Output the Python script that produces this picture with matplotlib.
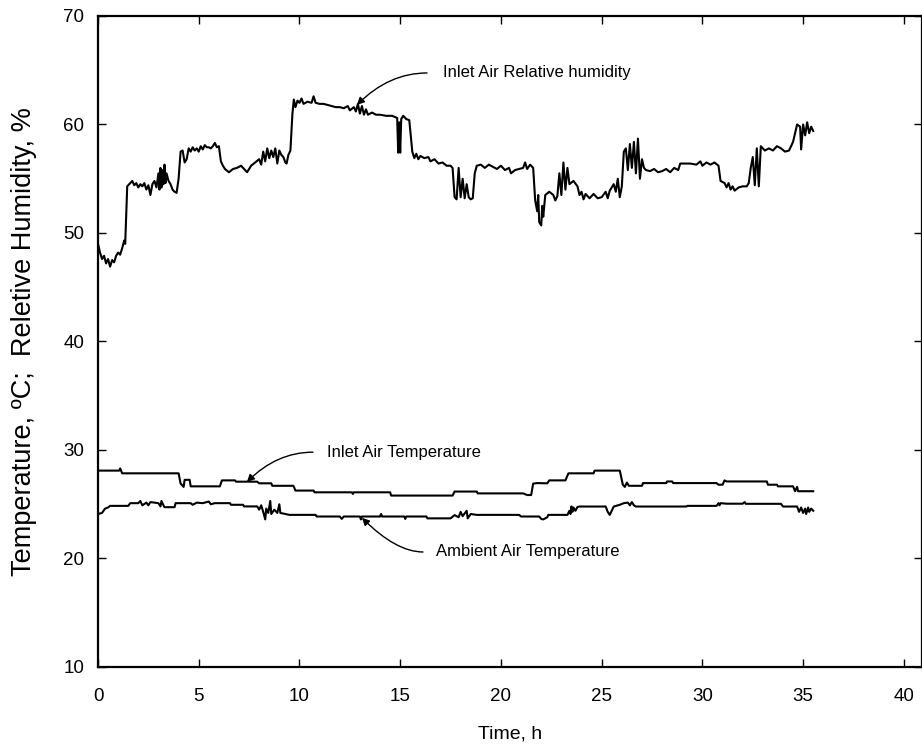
import numpy as np
import matplotlib.pyplot as plt

plt.rcParams['font.family'] = ['Liberation Sans', 'DejaVu Sans']

# inlet air relative humidity, %
rh_t = [0.0, 0.1, 0.2, 0.3, 0.4, 0.5, 0.6, 0.7, 0.8, 0.9, 1.0, 1.1, 1.2, 1.3, 1.35,
        1.45, 1.6, 1.7, 1.8, 1.9, 2.0, 2.1, 2.2, 2.3, 2.4, 2.5, 2.6, 2.7, 2.8, 2.9,
        3.0, 3.05, 3.1, 3.15, 3.2, 3.25, 3.3, 3.35, 3.4, 3.5, 3.6, 3.7, 3.8, 3.9,
        4.0, 4.1, 4.2, 4.3, 4.4, 4.5, 4.6, 4.7, 4.8, 4.9, 5.0, 5.1, 5.2, 5.3, 5.4,
        5.5, 5.6, 5.7, 5.8, 5.9, 6.0, 6.1, 6.2, 6.3, 6.5, 6.7, 6.9, 7.1, 7.3, 7.4,
        7.6, 7.8, 8.0, 8.1, 8.2, 8.3, 8.4, 8.5, 8.6, 8.7, 8.8, 8.9, 9.0, 9.1, 9.2,
        9.3, 9.36, 9.45, 9.55, 9.65, 9.72, 9.8, 9.9, 10.0, 10.1, 10.2, 10.4, 10.6,
        10.7, 10.8, 11.0, 11.2, 11.4, 11.6, 11.8, 12.0, 12.2, 12.4, 12.5, 12.7,
        12.8, 12.9, 13.0, 13.1, 13.2, 13.3, 13.4, 13.6, 13.8, 14.0, 14.3, 14.6,
        14.85, 14.9, 14.95, 15.0, 15.05, 15.15, 15.3, 15.45, 15.6, 15.7, 15.8,
        15.9, 16.0, 16.2, 16.4, 16.5, 16.7, 16.9, 17.1, 17.3, 17.5, 17.6, 17.7,
        17.8, 17.9, 18.0, 18.1, 18.2, 18.3, 18.4, 18.5, 18.6, 18.7, 18.8, 19.0,
        19.2, 19.4, 19.6, 19.8, 20.0, 20.2, 20.4, 20.5, 20.7, 20.9, 21.1, 21.2,
        21.3, 21.45, 21.6, 21.7, 21.8, 21.85, 21.9, 22.0, 22.05, 22.1, 22.2, 22.4,
        22.6, 22.7, 22.8, 22.9, 23.0, 23.1, 23.2, 23.3, 23.4, 23.6, 23.8, 23.9,
        24.0, 24.1, 24.2, 24.4, 24.6, 24.8, 25.0, 25.2, 25.3, 25.4, 25.6, 25.7,
        25.8, 25.9, 26.0, 26.1, 26.2, 26.3, 26.4, 26.5, 26.6, 26.7, 26.8, 26.9,
        27.0, 27.1, 27.2, 27.4, 27.6, 27.8, 28.0, 28.2, 28.4, 28.6, 28.8, 28.9,
        29.1, 29.4, 29.7, 29.9, 30.0, 30.2, 30.4, 30.6, 30.8, 30.9, 31.1, 31.2,
        31.3, 31.4, 31.5, 31.6, 31.8, 32.0, 32.2, 32.3, 32.4, 32.5, 32.6, 32.7,
        32.8, 32.9, 33.1, 33.3, 33.5, 33.7, 33.9, 34.1, 34.3, 34.5, 34.7, 34.85,
        34.9, 35.0, 35.1, 35.2, 35.3, 35.4, 35.5]
rh_v = [49.0, 48.2, 47.6, 47.9, 47.2, 47.6, 46.9, 47.5, 47.3, 47.9, 48.2, 48.0, 48.6, 49.3, 49.0,
        54.3, 54.6, 54.8, 54.4, 54.6, 54.2, 54.5, 54.3, 54.6, 54.0, 54.4, 53.5, 54.5, 54.8, 54.2,
        55.5, 54.0, 56.0, 54.2, 55.8, 54.5, 56.3, 54.6, 55.5, 54.8, 54.5, 54.0, 53.8, 53.7,
        55.0, 57.5, 57.6, 56.5, 56.8, 57.8, 57.5, 57.9, 57.6, 57.8, 57.5, 58.0, 57.7, 58.1, 57.9,
        57.9, 57.8, 58.0, 58.3, 57.9, 58.0, 56.6, 56.2, 55.9, 55.6, 55.9, 56.0, 56.2, 55.8, 55.6,
        56.2, 56.5, 56.8, 56.3, 57.5, 56.6, 57.8, 56.9, 57.6, 57.0, 57.8, 56.4, 57.6, 57.2, 57.0,
        56.5, 56.4, 57.2, 57.6, 61.0, 62.3, 61.6, 62.2, 62.0, 62.4, 61.9, 62.1, 62.0,
        62.6, 62.0, 61.9, 61.9, 61.8, 61.7, 61.6, 61.6, 61.5, 61.7, 61.3, 61.6,
        61.2, 61.9, 61.0, 61.7, 60.9, 61.4, 60.9, 61.1, 60.9, 60.9, 60.8, 60.8,
        60.6, 57.4, 60.2, 57.4, 60.5, 60.8, 60.5, 60.4, 57.5, 56.9, 57.3,
        56.8, 57.1, 56.9, 57.0, 56.6, 56.8, 56.4, 56.5, 56.2, 56.2, 56.0, 53.3,
        53.1, 56.0, 53.3, 55.0, 53.2, 54.5, 53.3, 53.1, 53.2, 55.5, 56.2, 56.3,
        56.0, 56.3, 56.1, 55.9, 56.2, 55.8, 56.0, 55.5, 55.8, 55.9, 56.0, 56.5,
        55.9, 56.3, 56.0, 53.0, 52.0, 53.5, 51.0, 50.7, 52.5, 51.5, 53.5, 53.8,
        53.5, 53.0, 53.4, 55.5, 53.5, 56.5, 54.0, 56.0, 54.5, 54.8, 54.3, 53.5,
        53.8, 53.1, 53.6, 53.2, 53.6, 53.2, 53.3, 53.8, 53.2, 53.9, 54.5, 53.8,
        55.0, 53.3, 54.3, 57.5, 57.8, 55.8, 58.2, 56.0, 58.4, 55.5, 58.7, 55.0,
        56.8, 56.0, 55.8, 55.7, 55.9, 55.6, 55.7, 55.9, 55.6, 56.0, 55.8, 56.4,
        56.4, 56.4, 56.3, 56.6, 56.2, 56.5, 56.3, 56.5, 56.2, 54.8, 54.6, 54.2,
        54.6, 54.0, 54.3, 53.9, 54.2, 54.3, 54.3, 54.6, 56.0, 57.0, 54.4, 57.8,
        54.3, 58.0, 57.6, 57.8, 57.6, 58.0, 57.8, 57.5, 57.6, 58.4, 60.0, 59.8,
        57.7, 60.0, 59.0, 60.2, 59.2, 59.8, 59.4]

# inlet air temperature, degC
tin_t = [0.0, 1.05, 1.1, 1.2, 4.0, 4.1, 4.25, 4.3, 4.55, 4.6, 6.05, 6.15, 6.8, 6.85,
         7.9, 8.0, 8.6, 8.65, 9.7, 9.8, 10.7, 10.75, 12.6, 12.65, 12.7, 14.5, 14.55,
         17.6, 17.7, 18.8, 18.85, 21.1, 21.3, 21.5, 21.6, 21.8, 22.3, 22.4, 23.2,
         23.35, 24.6, 24.65, 25.9, 26.05, 26.15, 26.25, 26.35, 27.0, 27.05, 28.2,
         28.25, 28.5, 28.55, 30.7, 30.8, 31.0, 31.1, 31.2, 33.2, 33.25, 33.7,
         33.75, 34.5, 34.6, 34.7, 34.75, 35.5]
tin_v = [28.1, 28.1, 28.3, 27.85, 27.85, 26.9, 26.6, 27.25, 27.25, 26.65, 26.65, 27.2, 27.2, 27.08,
         27.08, 26.93, 26.93, 26.7, 26.7, 26.26, 26.26, 26.1, 26.1, 25.95, 26.1, 26.1, 25.8,
         25.8, 26.17, 26.17, 26.0, 26.0, 25.85, 25.85, 26.9, 26.95, 26.93, 27.2, 27.2,
         27.85, 27.85, 28.1, 28.1, 26.8, 26.6, 27.0, 26.7, 26.7, 26.95, 26.95,
         27.1, 27.1, 26.95, 26.95, 26.8, 26.8, 27.2, 27.1, 27.1, 26.8, 26.8,
         26.65, 26.65, 26.2, 26.6, 26.2, 26.2]

# ambient air temperature, degC
tamb_t = [0.0, 0.2, 0.35, 0.5, 0.6, 1.5, 1.6, 2.0, 2.1, 2.2, 2.4, 2.5, 2.6, 3.0, 3.1,
          3.15, 3.25, 3.3, 3.8, 3.85, 4.6, 4.7, 4.9, 5.2, 5.5, 5.6, 5.8, 6.55, 6.6,
          7.2, 7.25, 7.9, 8.0, 8.1, 8.2, 8.3, 8.35, 8.45, 8.55, 8.6, 8.75, 8.9, 9.0,
          9.05, 9.3, 9.5, 10.8, 10.85, 12.0, 12.1, 12.2, 13.0, 13.05, 13.1, 14.0,
          14.05, 14.1, 15.2, 15.25, 15.3, 16.3, 16.35, 17.5, 17.7, 17.9, 18.0, 18.1,
          18.3, 18.35, 18.5, 18.8, 20.9, 21.0, 21.9, 22.0, 22.1, 22.3, 22.35, 23.3,
          23.4, 23.45, 23.5, 23.55, 23.6, 23.7, 23.8, 23.9, 25.2, 25.3, 25.4, 25.5,
          25.6, 25.9, 26.1, 26.3, 26.4, 26.5, 26.6, 26.7, 29.2, 29.25, 30.7, 30.8,
          30.85, 30.9, 31.2, 32.0, 32.1, 32.15, 33.9, 34.0, 34.7, 34.8, 34.9, 35.0,
          35.1, 35.15, 35.25, 35.3, 35.4, 35.5]
tamb_v = [24.1, 24.2, 24.6, 24.7, 24.85, 24.85, 25.1, 25.1, 25.3, 24.9, 25.15, 24.9, 25.2, 25.1, 24.8,
          25.3, 24.9, 24.73, 24.73, 25.1, 25.1, 24.95, 25.15, 25.1, 25.25, 25.0, 25.1, 25.1, 24.95,
          24.95, 24.8, 24.8, 24.5, 24.9, 24.3, 23.6, 24.6, 24.2, 25.3, 24.1, 24.5, 24.2, 25.0,
          24.2, 24.1, 24.02, 24.02, 23.87, 23.87, 23.65, 23.87, 23.87, 23.6, 23.87, 23.87,
          24.1, 23.87, 23.87, 23.65, 23.87, 23.87, 23.7, 23.7, 24.0, 23.8, 24.3, 23.9,
          24.4, 23.7, 24.1, 24.02, 24.02, 23.87, 23.87, 23.65, 23.6, 23.8, 24.02, 24.02,
          24.4, 24.1, 24.8, 24.3, 24.7, 24.4, 24.75, 24.79, 24.79, 24.3, 24.02, 24.4,
          24.79, 24.95, 25.1, 25.15, 24.9, 25.2, 24.9, 24.79, 24.79, 24.85, 24.85, 25.1,
          24.9, 25.1, 25.05, 25.05, 25.2, 25.04, 25.04, 24.79, 24.79, 24.3, 24.7, 24.2,
          24.6, 24.1, 24.7, 24.3, 24.6, 24.4]

fig = plt.figure(figsize=(9.22, 7.44), dpi=100)
ax = fig.add_axes([0.1063, 0.1035, 0.8937, 0.875])

for t, v in [(rh_t, rh_v), (tin_t, tin_v), (tamb_t, tamb_v)]:
    ax.plot(t, v, color='black', lw=1.5)

ax.set_xlim(0, 40.9)
ax.set_ylim(10, 70)
ax.set_xticks(np.arange(0, 41, 5))
ax.set_yticks(np.arange(10, 71, 10))
ax.tick_params(direction='in', length=6, width=1, top=True, right=True,
               labelsize=13.5, colors='black')
ax.tick_params(axis='x', pad=15)
ax.tick_params(axis='y', pad=10)
for s in ax.spines.values():
    s.set_linewidth(1.6)

ax.set_xlabel('Time, h', fontsize=14, labelpad=15)
ax.set_ylabel('Temperature, \u00baC;  Reletive Humidity, %', fontsize=19.5, labelpad=19)

arrow = dict(arrowstyle='-|>', color='black', lw=1.0, mutation_scale=11,
             shrinkA=0, shrinkB=0)

ax.annotate('', xy=(12.85, 61.8), xytext=(16.33, 64.75),
            arrowprops=dict(arrow, connectionstyle='angle3,angleA=0,angleB=45'))
ax.text(17.1, 64.75, 'Inlet Air Relative humidity', fontsize=12, va='center')

ax.annotate('', xy=(7.39, 27.05), xytext=(10.67, 29.8),
            arrowprops=dict(arrow, connectionstyle='angle3,angleA=0,angleB=45'))
ax.text(11.36, 29.8, 'Inlet Air Temperature', fontsize=12, va='center')

ax.annotate('', xy=(13.1, 23.75), xytext=(16.13, 20.6),
            arrowprops=dict(arrow, connectionstyle='angle3,angleA=0,angleB=-45'))
ax.text(16.8, 20.6, 'Ambient Air Temperature', fontsize=12, va='center')

fig.savefig('out.png', dpi=100)
